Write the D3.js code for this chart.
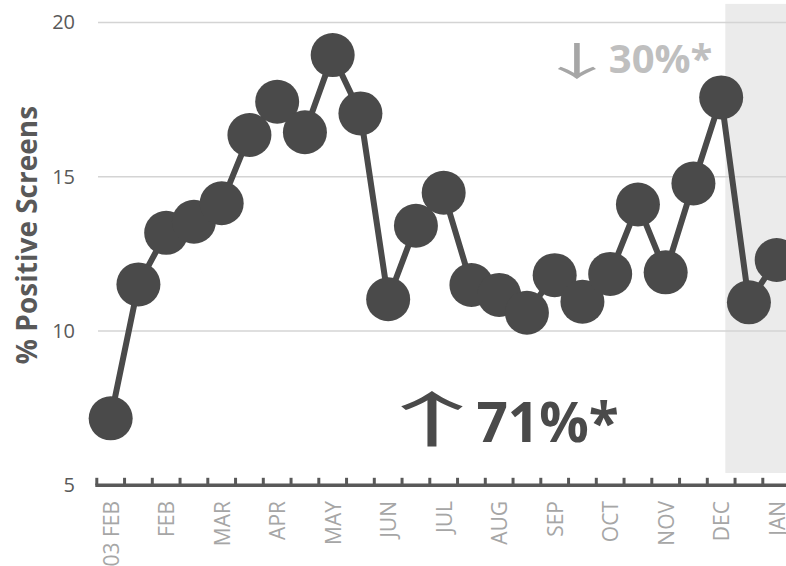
<!DOCTYPE html>
<html>
<head>
<meta charset="utf-8">
<script src="https://cdn.jsdelivr.net/npm/d3@7"></script>
<style>
  body { margin: 0; background: #fff; }
  svg { display: block; font-family: "Open Sans", sans-serif; }
</style>
</head>
<body>
<div id="chart"></div>
<script>
// % positive screens, one value per two-week period
var positive = [7.17, 11.51, 13.18, 13.54, 14.14, 16.35, 17.43, 16.44, 18.94, 17.05,
                11.03, 13.41, 14.48, 11.49, 11.17, 10.59, 11.81, 10.95, 11.85, 14.10,
                11.90, 14.78, 17.57, 10.93, 12.30]
// month labels, shown on every second period
var monthLabels = ["03 FEB", "FEB", "MAR", "APR", "MAY", "JUN", "JUL",
                   "AUG", "SEP", "OCT", "NOV", "DEC", "JAN"]
var yTicks = [5, 10, 15, 20]
// shaded recent period (band position, value range)
var shadeFrom = 22.65
var shadeValues = [5.4, 20.6]
var notes = [
  {arrow: "\u2191", text: "71%*", arrowPos: 12.08, arrowValue: 6.4, textPos: 13.68, value: 6.4,
   size: 55, arrowSize: 60, arrowScale: 2.2, fill: "#4a4a4a", arrowFill: "#4a4a4a"},
  {arrow: "\u2193", text: "30%*", arrowPos: 17.3, arrowValue: 18.3, textPos: 18.45, value: 18.35,
   size: 40, arrowSize: 39, arrowScale: 2.1, fill: "#bfbfbf", arrowFill: "#a6a6a6"}
]

function main() {
  var width = 786, height = 566

  var svg = d3.select("#chart")
    .append("svg")
      .attr("width", width)
      .attr("height", height)

  var x = d3.scaleBand()
    .domain(d3.range(positive.length))
    .range([96.8, 96.8 + 27.75 * positive.length])

  var y = d3.scaleLinear()
    .domain([5, 20])
    .range([485.3, 22.4])

  var pos = function (p) { return x.range()[0] + p * x.step() }

  // shaded region
  svg.append("rect")
    .attr("x", pos(shadeFrom))
    .attr("y", y(shadeValues[1]))
    .attr("width", width - pos(shadeFrom) + 10)
    .attr("height", y(shadeValues[0]) - y(shadeValues[1]))
    .style("fill", "#ebebeb")

  // gridlines
  svg.append("g")
    .selectAll("line")
    .data(yTicks.slice(1))
    .enter()
    .append("line")
      .attr("x1", 98)
      .attr("x2", width)
      .attr("y1", function (d) { return y(d) })
      .attr("y2", function (d) { return y(d) })
      .style("stroke", "#d4d4d4")
      .style("stroke-width", 1.5)

  // y tick labels
  svg.append("g")
    .selectAll("text")
    .data(yTicks)
    .enter()
    .append("text")
      .attr("x", 75)
      .attr("y", function (d) { return y(d) })
      .attr("dy", "0.35em")
      .attr("text-anchor", "end")
      .style("font-size", "20px")
      .style("fill", "#595959")
      .text(function (d) { return d })

  // y title
  svg.append("text")
    .attr("transform", "translate(37,235) rotate(-90)")
    .attr("text-anchor", "middle")
    .style("font-size", "28px")
    .style("font-weight", "bold")
    .style("fill", "#595959")
    .text("% Positive Screens")

  // x axis
  var axis = svg.append("g")
  axis.append("line")
    .attr("x1", x.range()[0] - 1.5)
    .attr("x2", width)
    .attr("y1", y(5))
    .attr("y2", y(5))
    .style("stroke", "#595959")
    .style("stroke-width", 3.5)
  axis.selectAll(".tick")
    .data(d3.range(positive.length + 1))
    .enter()
    .append("line")
      .attr("x1", function (d) { return pos(d) })
      .attr("x2", function (d) { return pos(d) })
      .attr("y1", y(5))
      .attr("y2", y(5) - 7.5)
      .style("stroke", "#595959")
      .style("stroke-width", 3)

  axis.selectAll(".lbl")
    .data(monthLabels)
    .enter()
    .append("text")
      .attr("transform", function (d, i) {
        return "translate(" + (x(i * 2) + x.bandwidth() / 2 + 8) + ",501) rotate(-90)"
      })
      .attr("text-anchor", "end")
      .style("font-size", "21px")
      .style("fill", "#a6a6a6")
      .text(function (d) { return d })

  // series line
  var line = d3.line()
    .x(function (d, i) { return x(i) + x.bandwidth() / 2 })
    .y(function (d) { return y(d) })

  svg.append("path")
    .datum(positive)
    .attr("d", line)
    .style("fill", "none")
    .style("stroke", "#4a4a4a")
    .style("stroke-width", 6)
    .style("stroke-linejoin", "round")

  svg.append("g")
    .selectAll("circle")
    .data(positive)
    .enter()
    .append("circle")
      .attr("cx", function (d, i) { return x(i) + x.bandwidth() / 2 })
      .attr("cy", function (d) { return y(d) })
      .attr("r", 22)
      .style("fill", "#4a4a4a")

  // annotations: arrow glyph + percentage
  var note = svg.append("g")
    .selectAll("g")
    .data(notes)
    .enter()
    .append("g")
  note.append("text")
    .attr("transform", function (d) {
      return "translate(" + pos(d.arrowPos) + "," + y(d.arrowValue) + ") scale(" + d.arrowScale + ",1)"
    })
    .attr("text-anchor", "middle")
    .style("font-family", "'Noto Sans CJK SC'")
    .style("font-weight", "normal")
    .style("font-size", function (d) { return d.arrowSize + "px" })
    .style("fill", function (d) { return d.arrowFill })
    .text(function (d) { return d.arrow })
  note.append("text")
    .attr("x", function (d) { return pos(d.textPos) })
    .attr("y", function (d) { return y(d.value) })
    .style("font-weight", "bold")
    .style("font-size", function (d) { return d.size + "px" })
    .style("fill", function (d) { return d.fill })
    .text(function (d) { return d.text })
}

main()
</script>
</body>
</html>
